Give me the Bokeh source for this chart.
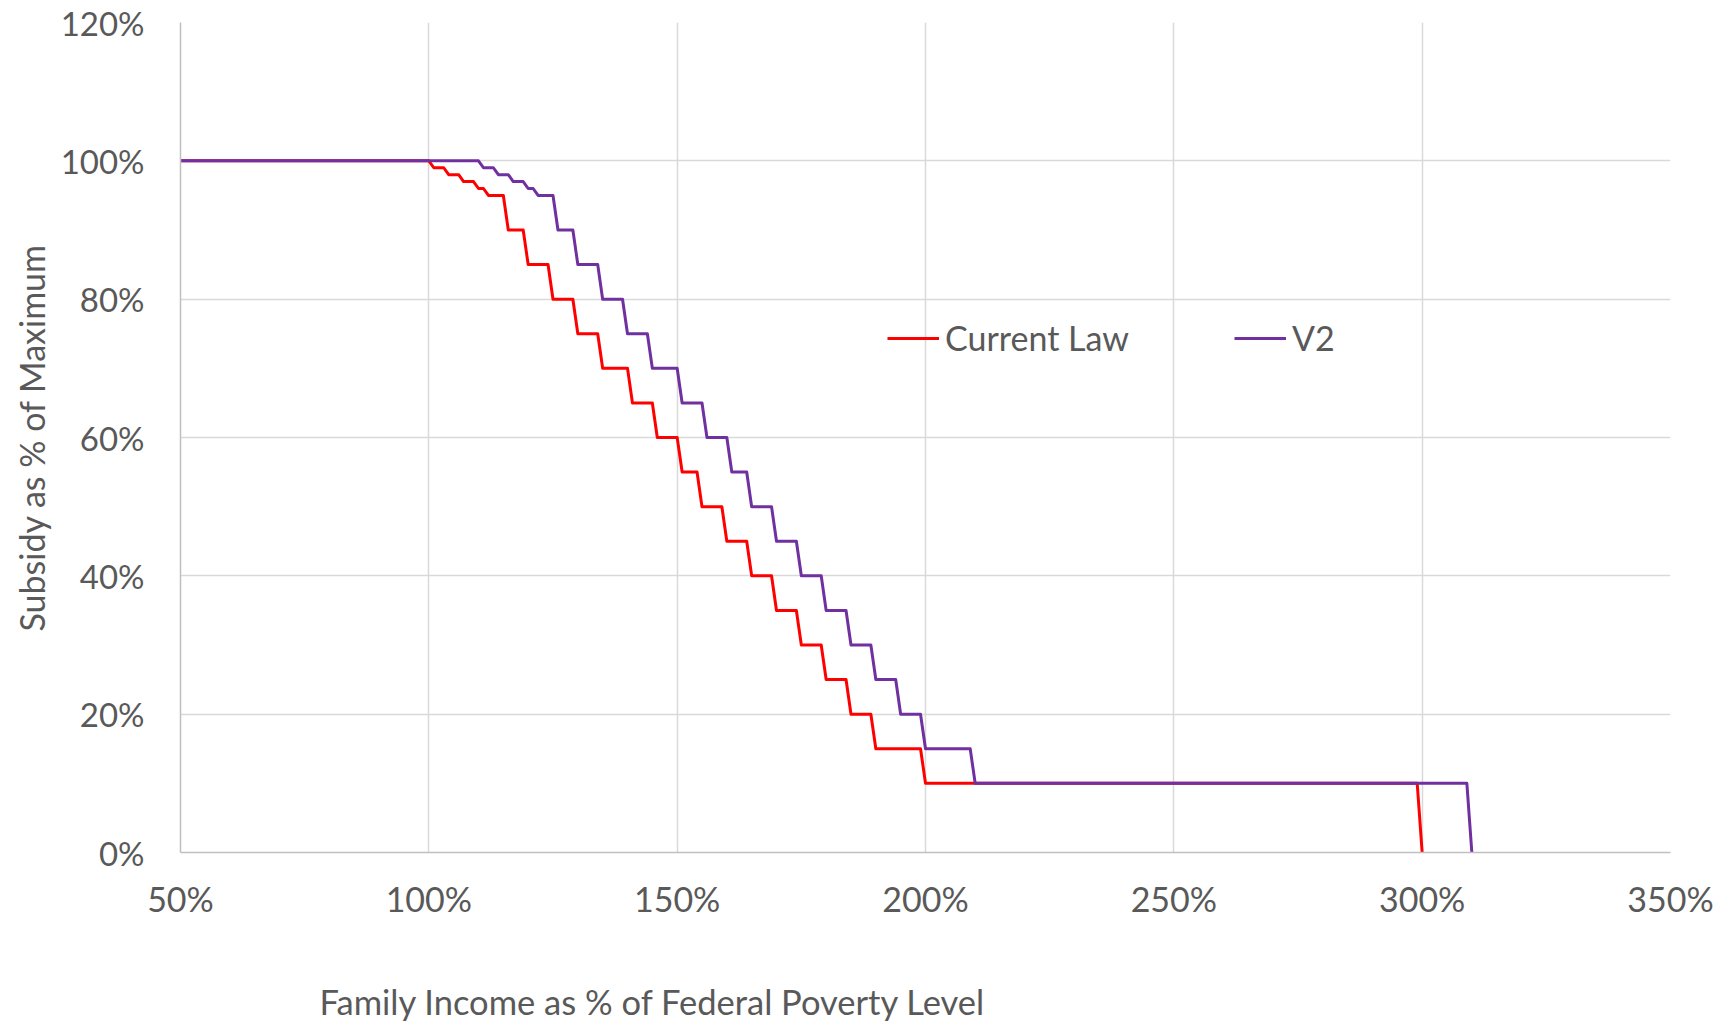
from bokeh.plotting import figure
from bokeh.layouts import column
from bokeh.models import Range1d, FixedTicker, PrintfTickFormatter, Legend, LegendItem
from bokeh.core.properties import value
from bokeh.embed import file_html
from bokeh.resources import INLINE

# ---- data ----
current_law_x = [50, 100, 101, 103, 104, 106, 107, 109, 110, 111, 112, 115, 116, 119,
                 120, 124, 125, 129, 130, 134, 135, 140, 141, 145, 146, 150, 151, 154,
                 155, 159, 160, 164, 165, 169, 170, 174, 175, 179, 180, 184, 185, 189,
                 190, 199, 200, 299, 300]
current_law_y = [100, 100, 99, 99, 98, 98, 97, 97, 96, 96, 95, 95, 90, 90,
                 85, 85, 80, 80, 75, 75, 70, 70, 65, 65, 60, 60, 55, 55,
                 50, 50, 45, 45, 40, 40, 35, 35, 30, 30, 25, 25, 20, 20,
                 15, 15, 10, 10, 0]

v2_x = [50, 110, 111, 113, 114, 116, 117, 119, 120, 121, 122, 125, 126, 129,
        130, 134, 135, 139, 140, 144, 145, 150, 151, 155, 156, 160, 161, 164,
        165, 169, 170, 174, 175, 179, 180, 184, 185, 189, 190, 194, 195, 199,
        200, 209, 210, 309, 310]
v2_y = [100, 100, 99, 99, 98, 98, 97, 97, 96, 96, 95, 95, 90, 90,
        85, 85, 80, 80, 75, 75, 70, 70, 65, 65, 60, 60, 55, 55,
        50, 50, 45, 45, 40, 40, 35, 35, 30, 30, 25, 25, 20, 20,
        15, 15, 10, 10, 0]

x_ticks = [50, 100, 150, 200, 250, 300, 350]
y_ticks = [0, 20, 40, 60, 80, 100, 120]

series_names = ["Current Law", "V2"]
series_colors = ["#FF0000", "#7030A0"]

x_title = "Family Income as % of Federal Poverty Level"
y_title = "Subsidy as % of Maximum"

TEXT = "#595959"
FONT = "Lato"
FS = "34px"

W = 1724
MAIN_H = 932
CAP_H = 1023 - MAIN_H
FRAME_LEFT, FRAME_RIGHT = 180, 1670

p = figure(width=W, height=MAIN_H,
           x_range=Range1d(50, 350), y_range=Range1d(0, 120),
           output_backend="svg", toolbar_location=None,
           min_border_left=FRAME_LEFT, min_border_right=W - FRAME_RIGHT,
           min_border_top=22, min_border_bottom=80)
p.outline_line_color = None
p.background_fill_color = "white"
p.border_fill_color = "white"

r1 = p.line(current_law_x, current_law_y, line_color=series_colors[0], line_width=3,
            line_join="round")
r2 = p.line(v2_x, v2_y, line_color=series_colors[1], line_width=3, line_join="round")

p.xaxis.ticker = FixedTicker(ticks=x_ticks, minor_ticks=[])
p.yaxis.ticker = FixedTicker(ticks=y_ticks, minor_ticks=[])
p.xaxis.formatter = PrintfTickFormatter(format="%d%%")
p.yaxis.formatter = PrintfTickFormatter(format="%d%%")

for ax in (p.xaxis, p.yaxis):
    ax.axis_line_color = "#BFBFBF"
    ax.axis_line_width = 1.5
    ax.major_tick_line_color = None
    ax.minor_tick_line_color = None
    ax.major_tick_out = 0
    ax.major_tick_in = 0
    ax.major_label_text_font = FONT
    ax.major_label_text_color = TEXT

p.xaxis.major_label_text_font_size = "34px"
p.yaxis.major_label_text_font_size = "33px"
p.xaxis.major_label_standoff = 25
p.yaxis.major_label_standoff = 36

p.yaxis.axis_label = y_title
p.yaxis.axis_label_text_font = FONT
p.yaxis.axis_label_text_font_size = FS
p.yaxis.axis_label_text_color = TEXT
p.yaxis.axis_label_text_font_style = "normal"
p.yaxis.axis_label_standoff = 6

p.xgrid.grid_line_color = "#D9D9D9"
p.ygrid.grid_line_color = "#D9D9D9"
p.xgrid.grid_line_width = 1.5
p.ygrid.grid_line_width = 1.5

legend = Legend(items=[LegendItem(label=series_names[0], renderers=[r1]),
                       LegendItem(label=series_names[1], renderers=[r2])],
                orientation="horizontal", location=(707, 494),
                glyph_width=52, glyph_height=20, label_standoff=6, spacing=105,
                padding=0, margin=0, border_line_alpha=0, background_fill_alpha=0,
                label_text_font=FONT, label_text_font_size=FS, label_text_color=TEXT)
p.add_layout(legend, "center")

# strip below the chart carrying the left-aligned x-axis title.
# Its frame is aligned with the main frame by the column layout, so its
# x range is expressed in page pixels of that frame.
cap = figure(width=W, height=CAP_H, x_range=Range1d(FRAME_LEFT, FRAME_RIGHT),
             y_range=Range1d(0, CAP_H),
             output_backend="svg", toolbar_location=None,
             x_axis_type=None, y_axis_type=None,
             min_border_left=FRAME_LEFT, min_border_right=W - FRAME_RIGHT,
             min_border_top=0, min_border_bottom=0)
cap.grid.visible = False
cap.outline_line_color = None
cap.background_fill_color = "white"
cap.border_fill_color = "white"
cap.text(x=[319], y=[CAP_H - 69], text=[x_title],
         text_font=value(FONT), text_font_size="34.5px", text_color=TEXT,
         text_align="left", text_baseline="middle")

layout = column(p, cap, spacing=0)
open("out.html", "w").write(file_html(layout, INLINE))
